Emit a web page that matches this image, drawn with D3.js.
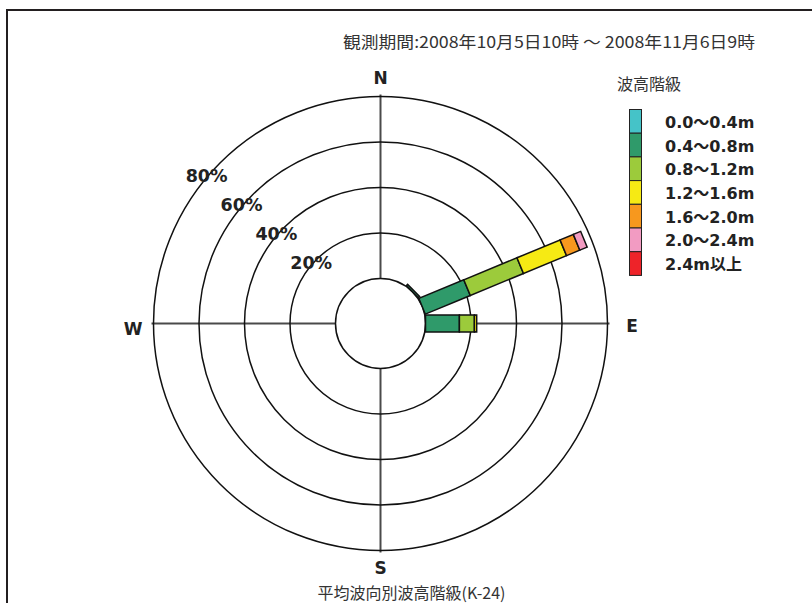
<!DOCTYPE html>
<html><head><meta charset="utf-8">
<script src="https://cdn.jsdelivr.net/npm/d3@7"></script>
<style>html,body{margin:0;padding:0;background:#fff;}svg{display:block;}</style>
</head><body>
<svg id="chart" width="812" height="603"></svg>
<script>
// ---- data ----
const directions = ["N","NNE","NE","ENE","E","ESE","SE","SSE","S","SSW","SW","WSW","W","WNW","NW","NNW"];
const classLabels = ["0.0～0.4m","0.4～0.8m","0.8～1.2m","1.2～1.6m","1.6～2.0m","2.0～2.4m","2.4m以上"];
const classColors = ["#45C3C8","#2F9A6A","#9CCB3B","#F6EA14","#F7981E","#F29BC2","#EE2329"];
// percent of observations per direction (N, NNE, NE, ENE, E, ... NNW)
const h00_04 = [0,0,0,0,0,0,0,0,0,0,0,0,0,0,0,0];
const h04_08 = [0,0,0.8,21.4,14.9,0,0,0,0,0,0,0,0,0,0,0];
const h08_12 = [0,0,0,25.3,6.6,0,0,0,0,0,0,0,0,0,0,0];
const h12_16 = [0,0,0,20.5,1.0,0,0,0,0,0,0,0,0,0,0,0];
const h16_20 = [0,0,0,6.3,0,0,0,0,0,0,0,0,0,0,0,0];
const h20_24 = [0,0,0,3.5,0,0,0,0,0,0,0,0,0,0,0,0];
const h24up  = [0,0,0,0,0,0,0,0,0,0,0,0,0,0,0,0];
const series = [h00_04,h04_08,h08_12,h12_16,h16_20,h20_24,h24up];
const ringTicks = [20,40,60,80];
const compassLabels = [{t:"N",a:0},{t:"E",a:90},{t:"S",a:180},{t:"W",a:270}];
const titleText = "観測期間:2008年10月5日10時 ～ 2008年11月6日9時";
const legendTitle = "波高階級";
const chartTitle = "平均波向別波高階級(K-24)";

// ---- layout ----
const svg = d3.select("#chart");
const cx = 380.5, cy = 323.5;
const r = d3.scaleLinear().domain([0,80]).range([45,227]);
const barW = 17;
const heavy = "'DejaVu Sans', 'Noto Sans CJK JP', sans-serif";

// frame
svg.append("rect").attr("x",7).attr("y",10).attr("width",900).attr("height",700)
  .attr("fill","none").attr("stroke","#231f20").attr("stroke-width",2);

const g = svg.append("g").attr("transform",`translate(${cx},${cy})`);

// axis lines (N-S, E-W) from calm circle to outer ring
[0,90,180,270].forEach(a=>{
  const rad = a*Math.PI/180;
  g.append("line")
    .attr("x1", r(0)*Math.sin(rad)).attr("y1", -r(0)*Math.cos(rad))
    .attr("x2", (r(80)+2)*Math.sin(rad)).attr("y2", -(r(80)+2)*Math.cos(rad))
    .attr("stroke","#4a4a4a").attr("stroke-width",2);
});

// rings
g.selectAll("circle.ring").data([0].concat(ringTicks)).join("circle")
  .attr("class","ring").attr("r",d=>r(d))
  .attr("fill","none").attr("stroke","#111").attr("stroke-width",1.5);

// bars
const stacked = directions.map((d,i)=>{
  let cum = 0;
  return series.map((s,k)=>{ const v=s[i]; const seg={dir:i,k,v,y0:cum,y1:cum+v}; cum+=v; return seg; })
    .filter(s=>s.v>0);
});
stacked.forEach((segs,i)=>{
  if(!segs.length) return;
  const bg = g.append("g").attr("transform",`rotate(${i*22.5-90})`);
  bg.selectAll("rect").data(segs).join("rect")
    .attr("x",d=>r(d.y0)).attr("width",d=>r(d.y1)-r(d.y0))
    .attr("y",-barW/2).attr("height",barW)
    .attr("fill",d=>classColors[d.k])
    .attr("stroke","#111").attr("stroke-width",1.5);
});

// ring percent labels
const la = 50*Math.PI/180;
g.selectAll("text.pct").data(ringTicks).join("text")
  .attr("class","pct")
  .attr("x",d=>-r(d)*Math.sin(la)).attr("y",d=>-r(d)*Math.cos(la)-2)
  .attr("text-anchor","middle").attr("dominant-baseline","central")
  .attr("font-family",heavy).attr("font-weight","bold")
  .attr("font-size",17.5).attr("fill","#222")
  .text(d=>d+"%");

// compass labels
const compassPos = {N:[0,-245.5],E:[251.5,2.5],S:[0,244.5],W:[-247.5,5.5]};
g.selectAll("text.cmp").data(compassLabels).join("text")
  .attr("class","cmp")
  .attr("x",d=>compassPos[d.t][0]).attr("y",d=>compassPos[d.t][1])
  .attr("text-anchor","middle").attr("dominant-baseline","central")
  .attr("font-family",heavy).attr("font-weight","bold")
  .attr("font-size",17).attr("fill","#222")
  .text(d=>d.t);

// title
svg.append("text").attr("x",343).attr("y",48)
  .attr("font-family","'Noto Sans CJK JP', sans-serif").attr("font-size",16).attr("fill","#333")
  .attr("textLength",412).attr("lengthAdjust","spacingAndGlyphs")
  .text(titleText);

// legend
svg.append("text").attr("x",617).attr("y",90)
  .attr("font-family","'Noto Sans CJK JP', sans-serif").attr("font-size",16).attr("fill","#333")
  .text(legendTitle);
const lg = svg.append("g");
const rowH = 23.7, ly0 = 109.5;
lg.selectAll("rect").data(classLabels).join("rect")
  .attr("x",629.5).attr("y",(d,i)=>ly0+i*rowH).attr("width",12).attr("height",rowH)
  .attr("fill",(d,i)=>classColors[i]).attr("stroke","#222").attr("stroke-width",1);
lg.selectAll("text").data(classLabels).join("text")
  .attr("x",665).attr("y",(d,i)=>ly0+i*rowH+rowH/2+1)
  .attr("dominant-baseline","central")
  .attr("font-family",heavy).attr("font-weight","bold")
  .attr("font-size",16).attr("fill","#222")
  .text(d=>d);

// bottom title
svg.append("text").attr("x",411.5).attr("y",599)
  .attr("text-anchor","middle")
  .attr("font-family","'Noto Sans CJK JP', sans-serif").attr("font-size",16).attr("fill","#333")
  .text(chartTitle);
</script>
</body></html>
